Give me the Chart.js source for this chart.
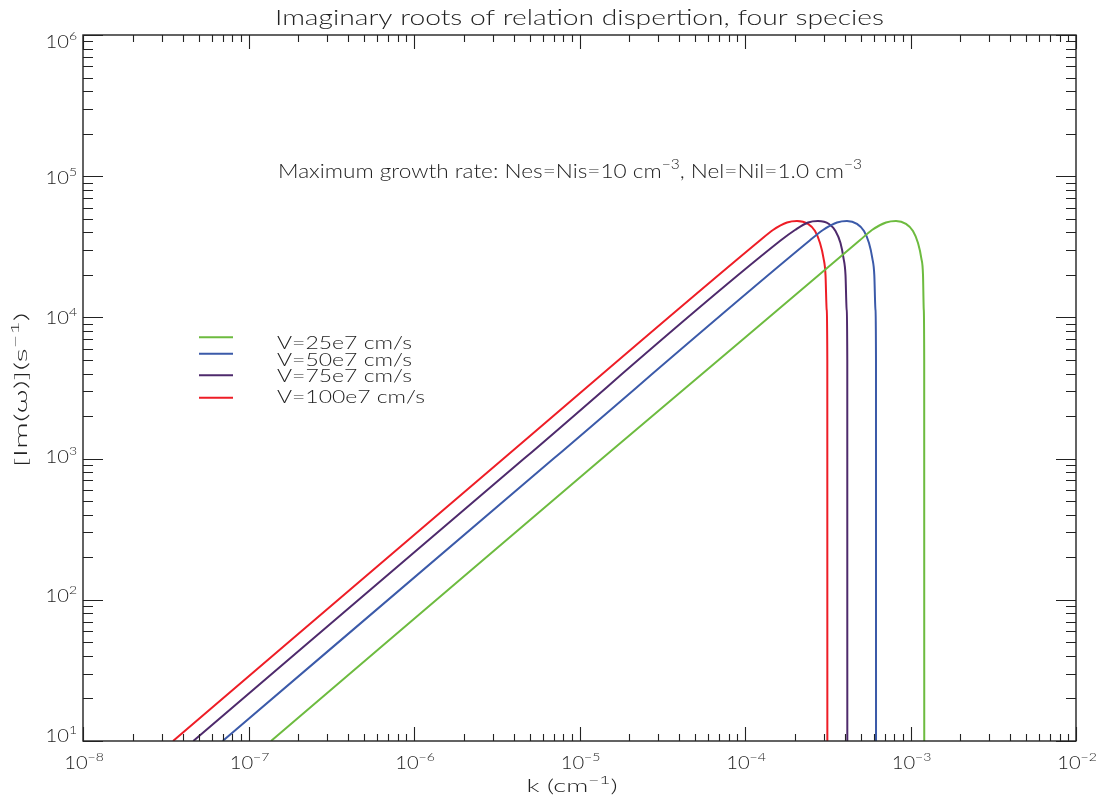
<!DOCTYPE html>
<html>
<head>
<meta charset="utf-8">
<script src="https://cdn.jsdelivr.net/npm/chart.js@4.4.1/dist/chart.umd.min.js"></script>
<style>
  html, body { margin: 0; padding: 0; background: #ffffff; }
  #wrap { width: 1105px; height: 800px; }
</style>
</head>
<body>
<div id="wrap"><canvas id="plot" width="1105" height="800"></canvas></div>
<script>
// Wavenumber k (cm^-1) and growth rate Im(omega) (s^-1) for each beam speed
const k25  = [1.368e-7, 1.37e-5, 4.92e-4, 5.852e-4, 7.112e-4, 8.175e-4, 9.393e-4, 1.035e-3, 1.110e-3, 1.162e-3, 1.190e-3, 1.203e-3, 1.210e-3, 1.211e-3];
const g25  = [10, 1.0e3, 3.5e4, 4.16e4, 4.70e4, 4.82e4, 4.59e4, 4.09e4, 3.36e4, 2.63e4, 2.00e4, 1.13e4, 4.99e3, 1];

const k50  = [6.98e-8, 6.98e-6, 2.46e-4, 2.960e-4, 3.597e-4, 4.133e-4, 4.750e-4, 5.236e-4, 5.613e-4, 5.877e-4, 6.043e-4, 6.144e-4, 6.187e-4, 6.19e-4];
const g50  = [10, 1.0e3, 3.5e4, 4.16e4, 4.70e4, 4.82e4, 4.59e4, 4.09e4, 3.36e4, 2.63e4, 2.00e4, 1.13e4, 4.99e3, 1];

const k75  = [4.64e-8, 4.63e-6, 1.64e-4, 2.005e-4, 2.403e-4, 2.761e-4, 3.218e-4, 3.522e-4, 3.776e-4, 3.937e-4, 4.048e-4, 4.116e-4, 4.150e-4, 4.152e-4];
const g75  = [10, 1.0e3, 3.5e4, 4.16e4, 4.70e4, 4.82e4, 4.59e4, 4.09e4, 3.36e4, 2.63e4, 2.00e4, 1.13e4, 4.99e3, 1];

const k100 = [3.50e-8, 3.48e-6, 1.23e-4, 1.476e-4, 1.794e-4, 2.062e-4, 2.403e-4, 2.649e-4, 2.839e-4, 2.981e-4, 3.065e-4, 3.117e-4, 3.143e-4, 3.145e-4];
const g100 = [10, 1.0e3, 3.5e4, 4.16e4, 4.70e4, 4.82e4, 4.59e4, 4.09e4, 3.36e4, 2.63e4, 2.00e4, 1.13e4, 4.99e3, 1];

const seriesLabels = ['V=25e7 cm/s', 'V=50e7 cm/s', 'V=75e7 cm/s', 'V=100e7 cm/s'];
const seriesColors = ['#6dbb3f', '#3b5aa9', '#4e2a6c', '#ee1d26'];

// Axis decades (exponents of ten)
const xExponents = [-8, -7, -6, -5, -4, -3, -2];
const yExponents = [1, 2, 3, 4, 5, 6];

const toPoints = (ks, gs) => ks.map((k, i) => ({ x: k, y: gs[i] }));

const FONT = '"Lato", "DejaVu Sans", sans-serif';
const INK = '#222222';

function fontStr(size) { return '300 ' + size + 'px ' + FONT; }

// Text made of plain and superscript pieces, optionally stretched to a width
function richWidth(ctx, segs, size, supSize) {
  let w = 0;
  for (const s of segs) {
    ctx.font = fontStr(s.sup ? supSize : size);
    w += ctx.measureText(s.t).width;
  }
  return w;
}
function drawRich(ctx, segs, x, y, o) {
  const size = o.size, supSize = o.supSize || size * 0.68, rise = o.rise || size * 0.48;
  const nat = richWidth(ctx, segs, size, supSize);
  const sx = o.width ? o.width / nat : (o.sx || 1);
  const total = nat * sx;
  ctx.save();
  ctx.translate(x, y);
  if (o.angle) ctx.rotate(o.angle);
  const start = o.align === 'center' ? -total / 2 : (o.align === 'right' ? -total : 0);
  ctx.scale(sx, 1);
  let cx = start / sx;
  ctx.textAlign = 'left';
  ctx.textBaseline = 'alphabetic';
  ctx.fillStyle = INK;
  for (const s of segs) {
    ctx.font = fontStr(s.sup ? supSize : size);
    ctx.fillText(s.t, cx, s.sup ? -rise : 0);
    cx += ctx.measureText(s.t).width;
  }
  ctx.restore();
}

// baseline offsets of the y tick labels below their tick
const yLabelDrop = { 1: 0.7, 2: 2.5, 3: 4.4, 4: 6.2, 5: 8, 6: 12.7 };

const frame = {
  id: 'frame',
  afterDraw(chart) {
    const ctx = chart.ctx;
    const a = chart.chartArea;
    const xs = chart.scales.x, ys = chart.scales.y;
    ctx.save();
    ctx.strokeStyle = INK;

    // box
    ctx.lineWidth = 1.4;
    ctx.strokeRect(a.left, a.top, a.right - a.left, a.bottom - a.top);

    // inward ticks on all four sides
    ctx.lineWidth = 1.1;
    ctx.beginPath();
    for (let i = 0; i < xExponents.length; i++) {
      const e = xExponents[i];
      for (let m = 1; m <= 9; m++) {
        if (i === xExponents.length - 1 && m > 1) break;
        const px = Math.round(xs.getPixelForValue(m * Math.pow(10, e))) + 0.5;
        const len = m === 1 ? 14 : 7;
        ctx.moveTo(px, a.bottom); ctx.lineTo(px, a.bottom - len);
        ctx.moveTo(px, a.top); ctx.lineTo(px, a.top + len);
      }
    }
    for (let i = 0; i < yExponents.length; i++) {
      const e = yExponents[i];
      for (let m = 1; m <= 9; m++) {
        if (i === yExponents.length - 1 && m > 1) break;
        const py = Math.round(ys.getPixelForValue(m * Math.pow(10, e))) + 0.5;
        const len = m === 1 ? 20 : 10;
        ctx.moveTo(a.left, py); ctx.lineTo(a.left + len, py);
        ctx.moveTo(a.right, py); ctx.lineTo(a.right - len, py);
      }
    }
    ctx.stroke();

    // tick labels
    for (const e of xExponents) {
      const px = xs.getPixelForValue(Math.pow(10, e));
      drawRich(ctx, [{ t: '10' }, { t: '\u2212' + Math.abs(e), sup: true }], px + 1, a.bottom + 28,
        { size: 18, supSize: 12.5, rise: 8, align: 'center', sx: 1.12 });
    }
    for (const e of yExponents) {
      const py = ys.getPixelForValue(Math.pow(10, e));
      drawRich(ctx, [{ t: '10' }, { t: String(e), sup: true }], a.left - 6, py + yLabelDrop[e],
        { size: 18, supSize: 12.5, rise: 8, align: 'right', sx: 1.12 });
    }

    // title
    drawRich(ctx, [{ t: 'Imaginary roots of relation dispertion, four species' }], 579.5, 25,
      { size: 22, align: 'center', width: 609 });

    // annotation
    drawRich(ctx, [
      { t: 'Maximum growth rate: Nes=Nis=10 cm' }, { t: '\u22123', sup: true },
      { t: ', Nel=Nil=1.0 cm' }, { t: '\u22123', sup: true }
    ], 278, 177.7, { size: 19, supSize: 13, rise: 9, align: 'left', width: 584 });

    // axis titles
    drawRich(ctx, [{ t: 'k (cm' }, { t: '\u22121', sup: true }, { t: ')' }], 572, 792,
      { size: 18, supSize: 12.5, rise: 8, align: 'center', width: 91 });
    drawRich(ctx, [{ t: '[Im(\u03c9)](s' }, { t: '\u22121', sup: true }, { t: ')' }], 27, 390,
      { size: 18, supSize: 12.5, rise: 8, align: 'center', width: 155, angle: -Math.PI / 2 });

    // legend
    const lineY = [337.3, 353.7, 375.3, 397.7];
    const textY = [349.3, 365.7, 382.3, 402.7];
    const textW = [135, 135, 135, 148];
    for (let i = 0; i < seriesLabels.length; i++) {
      ctx.strokeStyle = seriesColors[i];
      ctx.lineWidth = 2;
      ctx.beginPath();
      ctx.moveTo(199, lineY[i]); ctx.lineTo(233, lineY[i]);
      ctx.stroke();
      drawRich(ctx, [{ t: seriesLabels[i] }], 277, textY[i], { size: 17.5, align: 'left', width: textW[i] });
    }
    ctx.restore();
  }
};

const allK = [k25, k50, k75, k100];
const allG = [g25, g50, g75, g100];

new Chart(document.getElementById('plot'), {
  type: 'line',
  data: {
    datasets: seriesLabels.map((lab, i) => ({
      label: lab,
      data: toPoints(allK[i], allG[i]),
      borderColor: seriesColors[i],
      borderWidth: 2,
      pointRadius: 0,
      fill: false,
      cubicInterpolationMode: 'monotone',
      clip: { left: 0, top: 0, right: 0, bottom: 0 }
    }))
  },
  options: {
    responsive: false,
    devicePixelRatio: 1,
    animation: false,
    layout: { padding: { left: 83, top: 35, right: 29, bottom: 59 } },
    plugins: { legend: { display: false }, title: { display: false }, tooltip: { enabled: false } },
    scales: {
      x: { type: 'logarithmic', min: 1e-8, max: 1e-2, display: false },
      y: { type: 'logarithmic', min: 10, max: 1e6, display: false }
    }
  },
  plugins: [frame]
});
</script>
</body>
</html>
